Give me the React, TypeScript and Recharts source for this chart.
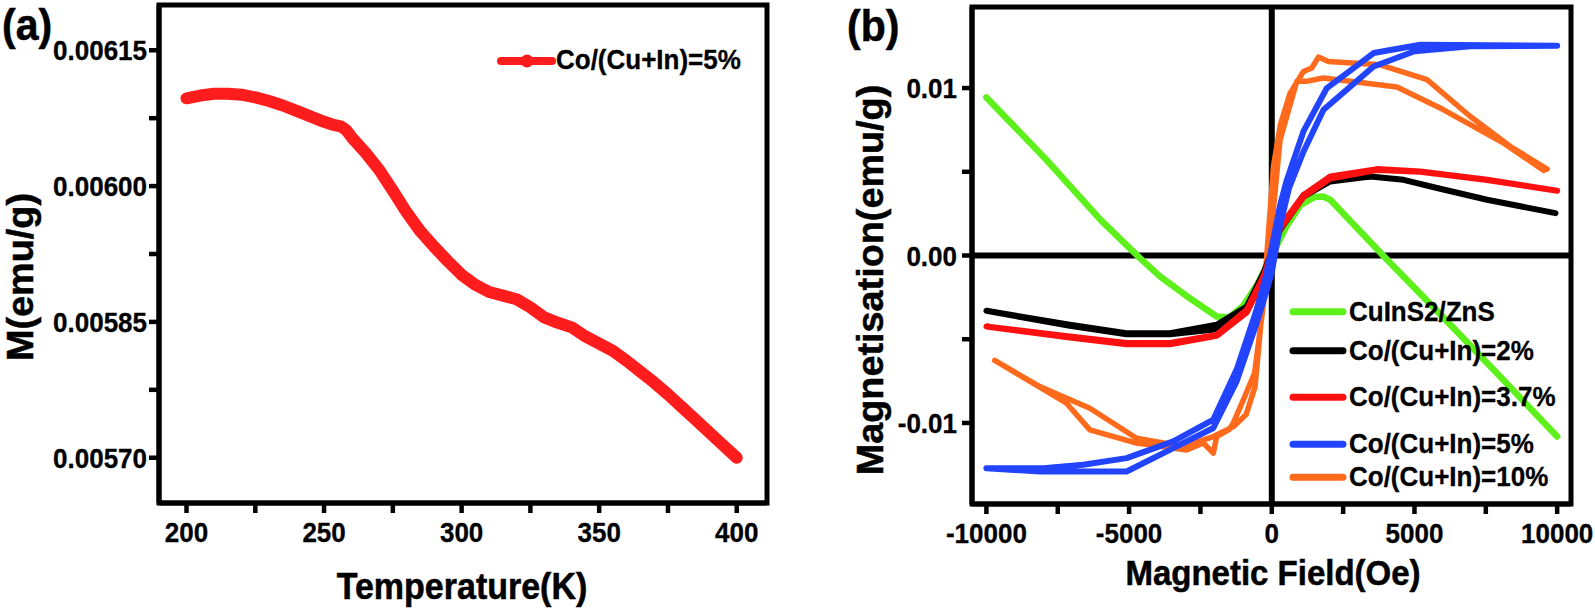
import { Legend, Line, LineChart, ReferenceArea, XAxis, YAxis } from "recharts";

const FONT = "'Liberation Sans', Arial, Helvetica, sans-serif";

const RED_A = "#ff1c1c";
const GREEN = "#5ef01a";
const BLACK = "#000000";
const RED = "#ff1010";
const BLUE = "#2244ff";
const ORANGE = "#ff6a1c";

// (a) M vs T
const tempK = [200, 205, 210, 215, 220, 225, 230, 235, 240, 245, 250, 253, 256, 258, 260, 265, 270, 275, 280, 285, 290, 295, 300, 305, 310, 315, 320, 325, 330, 335, 340, 345, 350, 355, 360, 365, 370, 375, 380, 385, 390, 395, 400];
const magA = [0.006097, 0.0061, 0.006102, 0.006102, 0.006101, 0.006098, 0.006094, 0.006089, 0.006083, 0.006077, 0.006071, 0.006068, 0.006066, 0.006062, 0.006054, 0.006037, 0.006018, 0.005995, 0.005971, 0.00595, 0.005933, 0.005917, 0.005902, 0.005891, 0.005883, 0.005879, 0.005875, 0.005866, 0.005855, 0.005849, 0.005844, 0.005834, 0.005826, 0.005818, 0.005807, 0.005795, 0.005783, 0.00577, 0.005756, 0.005742, 0.005728, 0.005714, 0.0057];

const aXTicks = [200, 225, 250, 275, 300, 325, 350, 375, 400];
const aXLabels = ["200", "", "250", "", "300", "", "350", "", "400"];
const aYTicks = [0.0057, 0.005775, 0.00585, 0.005925, 0.006, 0.006075, 0.00615];
const aYLabels = ["0.00570", "", "0.00585", "", "0.00600", "", "0.00615"];

// (b) M vs H loops
const greenH = [-10000, -7900, -6000, -4620, -3920, -3000, -1930, -1500, -1000, -500, 0, 500, 1000, 1500, 1800, 2050, 3900, 6000, 8000, 10000];
const greenM = [0.00944, 0.00572, 0.00213, -0.00016, -0.00125, -0.0024, -0.00364, -0.0037, -0.003, -0.0017, 0, 0.0017, 0.003, 0.0035, 0.00352, 0.00333, 0, -0.00368, -0.00723, -0.01081];

const blackH = [9940, 7544, 5789, 4618, 3449, 2046, 1109, 291, 0, -293, -877, -1930, -3568, -5088, -7077, -10000, -7077, -5088, -3568, -1930, -877, -293, 0, 291, 1109, 2046, 3449];
const blackM = [0.00253, 0.00333, 0.00403, 0.00452, 0.00472, 0.00442, 0.00352, 0.00154, 0.0002, -0.00105, -0.00305, -0.00414, -0.00464, -0.00464, -0.00414, -0.0033, -0.0042, -0.0047, -0.0047, -0.0044, -0.0033, -0.0012, 0, 0.0016, 0.0036, 0.0045, 0.0047];

const redH = [10000, 7544, 5204, 3684, 2046, 1109, 291, 0, -293, -877, -1930, -3568, -5088, -7077, -10000, -7077, -5088, -3568, -1930, -877, -293, 0, 291, 1109, 2046, 3684, 5204, 7544, 10000];
const redM = [0.00387, 0.00452, 0.00502, 0.00516, 0.00472, 0.0036, 0.00173, 0.0002, -0.00125, -0.00324, -0.00474, -0.00523, -0.00523, -0.00484, -0.00424, -0.0049, -0.0053, -0.0053, -0.0048, -0.0034, -0.0014, 0, 0.0016, 0.0035, 0.0046, 0.0051, 0.005, 0.0045, 0.00387];

const blueH = [10000, 5204, 3567, 1930, 1109, 526, 291, 0, -200, -526, -1228, -2049, -3452, -5088, -6610, -8000, -10000, -8130, -5088, -3452, -2049, -1228, -526, -200, 0, 291, 600, 1109, 1812, 3567, 5000, 6958, 10000];
const blueM = [0.01253, 0.01259, 0.01209, 0.01, 0.00741, 0.0045, 0.003, 0.0005, -0.0012, -0.0032, -0.0068, -0.0098, -0.0111, -0.0121, -0.0125, -0.0127, -0.0127, -0.0129, -0.0129, -0.0115, -0.0103, -0.0075, -0.004, -0.0022, -0.001, 0.0018, 0.004, 0.0062, 0.0087, 0.01129, 0.0122, 0.01249, 0.01253];

const orangeH = [9649, 8361, 6958, 5439, 3800, 1986, 1635, 1400, 1109, 642, 300, 58, -176, -410, -586, -900, -1348, -2049, -3102, -4738, -6375, -8130, -9709, -7193, -6375, -4738, -2983, -2400, -2049, -1930, -1500, -1348, -996, -600, -300, 0, 291, 877, 1200, 1812, 4386, 6021, 8126, 9530];
const orangeM = [0.00516, 0.00651, 0.0083, 0.0105, 0.01139, 0.01159, 0.01185, 0.0112, 0.01099, 0.0097, 0.0078, 0.00532, 0, -0.0046, -0.00783, -0.0095, -0.01022, -0.01081, -0.01141, -0.01091, -0.00912, -0.00783, -0.00627, -0.00882, -0.01041, -0.0112, -0.01161, -0.0112, -0.0118, -0.01081, -0.0104, -0.01, -0.00862, -0.007, -0.003, 0.0018, 0.00691, 0.0104, 0.0104, 0.0106, 0.01006, 0.0087, 0.00671, 0.00508];

const bXTicks = [-10000, -7500, -5000, -2500, 0, 2500, 5000, 7500, 10000];
const bXLabels = ["-10000", "", "-5000", "", "0", "", "5000", "", "10000"];
const bYTicks = [-0.01, -0.005, 0, 0.005, 0.01];
const bYLabels = ["-0.01", "", "0.00", "", "0.01"];

const aDomX = [190, 411];
const aDomY = [0.00565, 0.0062];
const bDomX = [-10505, 10485];
const bDomY = [-0.01484, 0.01484];

const zip = (xs: number[], ys: number[]) => xs.map((x, i) => ({ x, y: ys[i] }));

const aData = zip(tempK, magA);
// zero axes across panel (b)
const zeroH = zip(bDomX, [0, 0]);
const zeroV = zip([0, 0], bDomY);

const bSeries = [
  { name: "CuInS2/ZnS", color: GREEN, width: 6.5, data: zip(greenH, greenM) },
  { name: "Co/(Cu+In)=10%", color: ORANGE, width: 5.5, data: zip(orangeH, orangeM) },
  { name: "Co/(Cu+In)=2%", color: BLACK, width: 6, data: zip(blackH, blackM) },
  { name: "Co/(Cu+In)=3.7%", color: RED, width: 6, data: zip(redH, redM) },
  { name: "Co/(Cu+In)=5%", color: BLUE, width: 6, data: zip(blueH, blueM) },
];
const bLegend = ["CuInS2/ZnS", "Co/(Cu+In)=2%", "Co/(Cu+In)=3.7%", "Co/(Cu+In)=5%", "Co/(Cu+In)=10%"];
const bLegendRows = [21.7, 60.7, 107.3, 154.3, 187.3];

// bold text, a little taller than wide like the source figure
function T(props: { x: number; y: number; size: number; anchor?: "start" | "middle" | "end"; vertical?: boolean; heavy?: number; children: string }) {
  const { x, y, size, anchor = "start", vertical, heavy = 0.3 } = props;
  const tf = vertical ? `translate(${x} ${y}) rotate(-90) scale(1.05 1)` : `translate(${x} ${y}) scale(1 1.08)`;
  return (
    <text
      x={0}
      y={0}
      transform={tf}
      textAnchor={anchor}
      fontFamily={FONT}
      fontWeight={700}
      fontSize={size}
      fill="#000"
      stroke="#000"
      strokeWidth={heavy}
    >
      {props.children}
    </text>
  );
}

const tickText = (ticks: number[], labels: string[], dy: number, anchor: "middle" | "end") =>
  (p: any) => {
    const i = ticks.findIndex((v) => Math.abs(v - p.payload.value) < 1e-9);
    const s = i >= 0 ? labels[i] : "";
    if (!s) return <g />;
    return (
      <T x={p.x} y={p.y + dy} size={26} anchor={anchor}>
        {s}
      </T>
    );
  };

const tickLine = { stroke: "#000", strokeWidth: 4.5 };
const axisLine = { stroke: "#000", strokeWidth: 5 };

function PanelA() {
  return (
    <LineChart width={790} height={609} margin={{ top: 5, right: 23, bottom: 76, left: 59 }}>
      <XAxis
        type="number"
        dataKey="x"
        domain={aDomX}
        allowDataOverflow
        ticks={aXTicks}
        interval={0}
        height={30}
        axisLine={axisLine}
        tickLine={tickLine}
        tickSize={10}
        tickMargin={2}
        tick={tickText(aXTicks, aXLabels, 27, "middle")}
        label={{
          content: () => (
            <T x={462} y={599} size={34} anchor="middle" heavy={0.5}>
              Temperature(K)
            </T>
          ),
        }}
      />
      <YAxis
        type="number"
        domain={aDomY}
        allowDataOverflow
        ticks={aYTicks}
        interval={0}
        width={100}
        axisLine={axisLine}
        tickLine={tickLine}
        tickSize={10}
        tickMargin={2}
        tick={tickText(aYTicks, aYLabels, 10, "end")}
        label={{
          content: () => (
            <g>
              <T x={33} y={277} size={36} anchor="middle" vertical heavy={0.5}>
                M(emu/g)
              </T>
              <T x={2} y={40} size={41} heavy={0.5}>
                (a)
              </T>
            </g>
          ),
        }}
      />
      <ReferenceArea x1={aDomX[0]} x2={aDomX[1]} y1={aDomY[0]} y2={aDomY[1]} fill="none" stroke="#000" strokeWidth={5} ifOverflow="visible" />
      <Line
        data={aData}
        dataKey="y"
        type="linear"
        stroke={RED_A}
        strokeWidth={12}
        strokeLinecap="round"
        strokeLinejoin="round"
        dot={false}
        activeDot={false}
        isAnimationActive={false}
      />
      <Legend
        layout="horizontal"
        verticalAlign="middle"
        align="center"
        wrapperStyle={{ left: 495, top: 42, width: 260, height: 40 }}
        content={() => (
          <svg width={260} height={40} style={{ overflow: "visible" }}>
            <line x1={6} y1={19} x2={57} y2={19} stroke={RED_A} strokeWidth={8} strokeLinecap="round" />
            <circle cx={32} cy={19} r={6.5} fill={RED_A} />
            <T x={61} y={27} size={26}>
              Co/(Cu+In)=5%
            </T>
          </svg>
        )}
      />
    </LineChart>
  );
}

function PanelB() {
  return (
    <LineChart width={795} height={609} margin={{ top: 7, right: 24, bottom: 75, left: 92 }}>
      <XAxis
        type="number"
        dataKey="x"
        domain={bDomX}
        allowDataOverflow
        ticks={bXTicks}
        interval={0}
        height={30}
        axisLine={axisLine}
        tickLine={tickLine}
        tickSize={10}
        tickMargin={2}
        tick={tickText(bXTicks, bXLabels, 27, "middle")}
        label={{
          content: () => (
            <T x={473} y={585} size={33} anchor="middle" heavy={0.5}>
              Magnetic Field(Oe)
            </T>
          ),
        }}
      />
      <YAxis
        type="number"
        domain={bDomY}
        allowDataOverflow
        ticks={bYTicks}
        interval={0}
        width={80}
        axisLine={axisLine}
        tickLine={tickLine}
        tickSize={10}
        tickMargin={5}
        tick={tickText(bYTicks, bYLabels, 10, "end")}
        label={{
          content: () => (
            <g>
              <T x={83} y={280} size={36} anchor="middle" vertical heavy={0.5}>
                Magnetisation(emu/g)
              </T>
              <T x={47} y={41} size={41} heavy={0.5}>
                (b)
              </T>
            </g>
          ),
        }}
      />
      <Line data={zeroH} dataKey="y" type="linear" stroke="#000" strokeWidth={6} dot={false} activeDot={false} isAnimationActive={false} legendType="none" />
      <Line data={zeroV} dataKey="y" type="linear" stroke="#000" strokeWidth={6} dot={false} activeDot={false} isAnimationActive={false} legendType="none" />
      <ReferenceArea x1={bDomX[0]} x2={bDomX[1]} y1={bDomY[0]} y2={bDomY[1]} fill="none" stroke="#000" strokeWidth={5} ifOverflow="visible" />
      {bSeries.map((s) => (
        <Line
          key={s.name}
          data={s.data}
          dataKey="y"
          name={s.name}
          type="linear"
          stroke={s.color}
          strokeWidth={s.width}
          strokeLinecap="round"
          strokeLinejoin="round"
          dot={false}
          activeDot={false}
          isAnimationActive={false}
        />
      ))}
      <Legend
        layout="horizontal"
        verticalAlign="middle"
        align="center"
        wrapperStyle={{ left: 487, top: 290, width: 290, height: 205 }}
        content={() => (
          <svg width={290} height={205} style={{ overflow: "visible" }}>
            {bLegend.map((name, i) => {
              const s = bSeries.find((q) => q.name === name)!;
              const y = bLegendRows[i];
              return (
                <g key={name}>
                  <line x1={6} y1={y} x2={56} y2={y} stroke={s.color} strokeWidth={7} strokeLinecap="round" />
                  <T x={62} y={y + 9} size={26}>
                    {name}
                  </T>
                </g>
              );
            })}
          </svg>
        )}
      />
    </LineChart>
  );
}

export default function App() {
  return (
    <div style={{ position: "absolute", left: 0, top: 0, width: 1595, height: 609, background: "#fff", overflow: "hidden" }}>
      <div style={{ position: "absolute", left: 0, top: 0 }}>
        <PanelA />
      </div>
      <div style={{ position: "absolute", left: 800, top: 0 }}>
        <PanelB />
      </div>
    </div>
  );
}
